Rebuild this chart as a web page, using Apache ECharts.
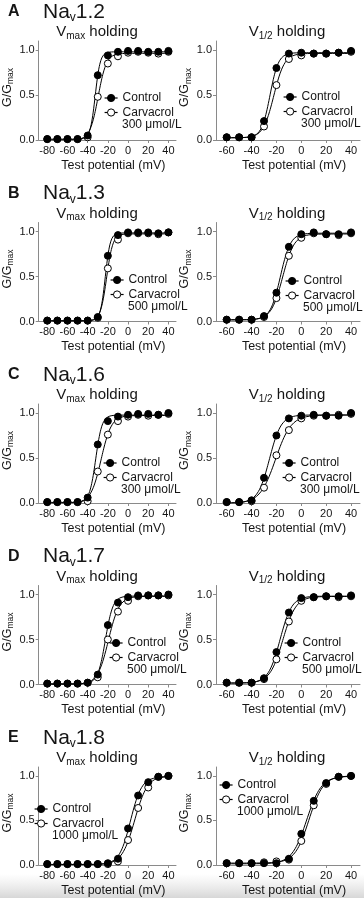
<!DOCTYPE html>
<html><head><meta charset="utf-8">
<script src="https://cdn.jsdelivr.net/npm/echarts@6/dist/echarts.min.js"></script>
<style>html,body{margin:0;padding:0;background:#fff}#c{width:364px;height:898px}</style>
</head><body><div id="c"></div>
<script>
// ---------------- data ----------------
const xLeft = [-80, -70, -60, -50, -40, -30, -20, -10, 0, 10, 20, 30, 40];   // Vmax holding panels
const xRight = [-60, -50, -40, -30, -20, -10, 0, 10, 20, 30, 40];             // V1/2 holding panels
const xTicksLeft = [-80, -60, -40, -20, 0, 20, 40];
const xTicksRight = [-60, -40, -20, 0, 20, 40];
const yTicks = [0, 0.5, 1.0];

const channels = ['1.2', '1.3', '1.6', '1.7', '1.8'];
const panelLetters = ['A', 'B', 'C', 'D', 'E'];
const concentrations = ['300 μmol/L', '500 μmol/L', '300 μmol/L', '500 μmol/L', '1000 μmol/L'];
const seriesNames = ['Control', 'Carvacrol'];

const nav12VmaxControl   = [0.01, 0.01, 0.01, 0.01, 0.05, 0.72, 0.94, 0.98, 0.99, 0.99, 0.98, 0.98, 0.99];
const nav12VmaxCarvacrol = [0.01, 0.01, 0.01, 0.01, 0.03, 0.48, 0.85, 0.93, 0.97, 0.98, 0.97, 0.96, 0.98];
const nav12VhalfControl   = [0.03, 0.03, 0.03, 0.21, 0.80, 0.96, 0.97, 0.96, 0.96, 0.97, 0.99];
const nav12VhalfCarvacrol = [0.03, 0.03, 0.03, 0.15, 0.61, 0.90, 0.94, 0.96, 0.96, 0.97, 0.98];

const nav13VmaxControl   = [0.01, 0.01, 0.01, 0.01, 0.01, 0.05, 0.73, 0.96, 0.99, 0.99, 0.99, 0.98, 0.99];
const nav13VmaxCarvacrol = [0.01, 0.01, 0.01, 0.01, 0.01, 0.04, 0.59, 0.91, 0.98, 0.98, 0.98, 0.97, 0.99];
const nav13VhalfControl   = [0.02, 0.02, 0.02, 0.06, 0.32, 0.83, 0.97, 0.99, 0.97, 0.97, 0.99];
const nav13VhalfCarvacrol = [0.02, 0.02, 0.02, 0.05, 0.26, 0.73, 0.93, 0.98, 0.97, 0.96, 0.98];

const nav16VmaxControl   = [0.01, 0.01, 0.01, 0.01, 0.06, 0.65, 0.91, 0.96, 0.98, 0.99, 0.99, 0.98, 1.00];
const nav16VmaxCarvacrol = [0.01, 0.01, 0.01, 0.01, 0.02, 0.35, 0.76, 0.91, 0.96, 0.98, 0.97, 0.98, 0.99];
const nav16VhalfControl   = [0.01, 0.01, 0.03, 0.28, 0.75, 0.94, 0.97, 0.98, 0.97, 0.97, 1.00];
const nav16VhalfCarvacrol = [0.01, 0.01, 0.02, 0.17, 0.53, 0.81, 0.94, 0.97, 0.97, 0.98, 0.99];

const nav17VmaxControl   = [0.01, 0.01, 0.01, 0.01, 0.02, 0.11, 0.66, 0.91, 0.97, 0.99, 0.99, 0.99, 1.00];
const nav17VmaxCarvacrol = [0.01, 0.01, 0.01, 0.01, 0.02, 0.08, 0.50, 0.81, 0.93, 0.98, 0.99, 0.99, 0.99];
const nav17VhalfControl   = [0.02, 0.02, 0.02, 0.07, 0.36, 0.80, 0.96, 0.97, 0.98, 0.98, 0.99];
const nav17VhalfCarvacrol = [0.02, 0.02, 0.02, 0.06, 0.28, 0.70, 0.93, 0.97, 0.98, 0.97, 0.98];

const nav18VmaxControl   = [0.01, 0.01, 0.01, 0.01, 0.01, 0.01, 0.02, 0.07, 0.41, 0.78, 0.93, 0.99, 1.00];
const nav18VmaxCarvacrol = [0.01, 0.01, 0.01, 0.01, 0.01, 0.01, 0.01, 0.04, 0.28, 0.64, 0.87, 0.99, 1.00];
const nav18VhalfControl   = [0.02, 0.02, 0.02, 0.02, 0.02, 0.07, 0.35, 0.72, 0.92, 0.99, 1.00];
const nav18VhalfCarvacrol = [0.02, 0.02, 0.02, 0.03, 0.04, 0.06, 0.27, 0.67, 0.91, 0.99, 1.00];

// ---------------- layout / style ----------------
const FONT = "'Liberation Sans', Arial, Helvetica, sans-serif";
const TXT = '#151515';
const AXIS = '#8a8a8a';
const ROW_PITCH = 181.5;
const GRID_TOP0 = 41;
const GRID_H = 99;
const GRID_W = 144;
const COL_LEFT = [32, 216];
const X_RANGE = [[-88.5, 47.5], [-68.6, 47.2]];
// legend anchors: [text x, centre y of "Control" line] per panel, row-relative y
const LEGEND_POS = [
  [[122, 97], [301, 96]],
  [[128, 97.5], [303, 98.5]],
  [[121, 99], [300, 99]],
  [[127, 97.5], [302, 97.5]],
  [[52, 82], [237, 58]]
];

const rows = [
  [nav12VmaxControl, nav12VmaxCarvacrol, nav12VhalfControl, nav12VhalfCarvacrol],
  [nav13VmaxControl, nav13VmaxCarvacrol, nav13VhalfControl, nav13VhalfCarvacrol],
  [nav16VmaxControl, nav16VmaxCarvacrol, nav16VhalfControl, nav16VhalfCarvacrol],
  [nav17VmaxControl, nav17VmaxCarvacrol, nav17VhalfControl, nav17VhalfCarvacrol],
  [nav18VmaxControl, nav18VmaxCarvacrol, nav18VhalfControl, nav18VhalfCarvacrol]
];

// Boltzmann fit (least squares, Nelder–Mead) of the data points, as drawn in the original figure
function boltzmann(p, v) { return p[0] + (p[1] - p[0]) / (1 + Math.exp((p[2] - v) / p[3])); }
function fitBoltzmann(xs, ys) {
  const sse = p => {
    if (p[3] < 0.8 || p[3] > 30) return 1e9;
    let s = 0;
    for (let i = 0; i < xs.length; i++) { const d = boltzmann(p, xs[i]) - ys[i]; s += d * d; }
    return s;
  };
  const lo = Math.min(...ys), hi = Math.max(...ys), mid = (lo + hi) / 2;
  let vh = xs[Math.floor(xs.length / 2)];
  for (let i = 1; i < xs.length; i++) {
    if (ys[i - 1] < mid && ys[i] >= mid) { vh = xs[i - 1] + (mid - ys[i - 1]) / (ys[i] - ys[i - 1]) * (xs[i] - xs[i - 1]); break; }
  }
  const n = 4, p0 = [lo, hi, vh, 5], steps = [0.02, 0.02, 3, 2];
  let sim = [p0];
  for (let i = 0; i < n; i++) { const p = p0.slice(); p[i] += steps[i]; sim.push(p); }
  let vals = sim.map(sse);
  for (let it = 0; it < 3000; it++) {
    const idx = sim.map((_, i) => i).sort((a, b) => vals[a] - vals[b]);
    sim = idx.map(i => sim[i]); vals = idx.map(i => vals[i]);
    const c = new Array(n).fill(0);
    for (let i = 0; i < n; i++) for (let j = 0; j < n; j++) c[j] += sim[i][j] / n;
    const w = sim[n];
    const xr = c.map((cj, j) => cj + (cj - w[j])), fr = sse(xr);
    if (fr < vals[0]) {
      const xe = c.map((cj, j) => cj + 2 * (cj - w[j])), fe = sse(xe);
      if (fe < fr) { sim[n] = xe; vals[n] = fe; } else { sim[n] = xr; vals[n] = fr; }
    } else if (fr < vals[n - 1]) { sim[n] = xr; vals[n] = fr; }
    else {
      const xc = c.map((cj, j) => cj + 0.5 * (w[j] - cj)), fc = sse(xc);
      if (fc < vals[n]) { sim[n] = xc; vals[n] = fc; }
      else {
        for (let i = 1; i <= n; i++) { sim[i] = sim[i].map((v, j) => sim[0][j] + 0.5 * (v - sim[0][j])); vals[i] = sse(sim[i]); }
      }
    }
  }
  let b = 0; for (let i = 1; i <= n; i++) if (vals[i] < vals[b]) b = i;
  return sim[b];
}
function fitCurve(xs, ys) {
  const p = fitBoltzmann(xs, ys);
  const out = [];
  for (let v = xs[0]; v <= xs[xs.length - 1] + 1e-9; v += 0.5) out.push([v, boltzmann(p, v)]);
  return out;
}
const zip = (xs, ys) => xs.map((x, i) => [x, ys[i]]);

const grids = [], xAxes = [], yAxes = [], series = [], legends = [], graphics = [];

rows.forEach((vals, r) => {
  const dy = ROW_PITCH * r;
  for (let c = 0; c < 2; c++) {
    const k = r * 2 + c;
    const xs = c === 0 ? xLeft : xRight;
    const ticks = c === 0 ? xTicksLeft : xTicksRight;
    const ctrl = vals[c * 2], carv = vals[c * 2 + 1];
    grids.push({ left: COL_LEFT[c], top: GRID_TOP0 + dy, width: GRID_W, height: GRID_H });
    xAxes.push({
      type: 'value', gridIndex: k, min: X_RANGE[c][0], max: X_RANGE[c][1],
      axisLine: { show: true, onZero: false, lineStyle: { color: AXIS, width: 1 } },
      axisTick: { show: true, length: 3, customValues: ticks, lineStyle: { color: AXIS } },
      axisLabel: { customValues: ticks, fontSize: 11, color: TXT, fontFamily: FONT, margin: 5 },
      splitLine: { show: false },
      name: 'Test potential (mV)', nameLocation: 'middle', nameGap: 19,
      nameTextStyle: { fontSize: 12.5, color: TXT, fontFamily: FONT, padding: [0, 0, 0, 12] }
    });
    yAxes.push({
      type: 'value', gridIndex: k, min: 0, max: 1.1,
      axisLine: { show: true, onZero: false, lineStyle: { color: AXIS, width: 1 } },
      axisTick: { show: true, length: 3, customValues: yTicks, lineStyle: { color: AXIS } },
      axisLabel: { customValues: yTicks, fontSize: 11, color: TXT, fontFamily: FONT, margin: 4,
                   formatter: v => v.toFixed(1) },
      splitLine: { show: false },
      name: 'G/G{s|max}', nameLocation: 'middle', nameRotate: 90, nameGap: 17,
      nameTextStyle: { fontSize: 12.5, color: TXT, fontFamily: FONT, padding: [0, 0, 0, 6],
                       rich: { s: { fontSize: 8.5, color: TXT, fontFamily: FONT, padding: [7, 0, 0, 0] } } }
    });
    const lineCommon = { type: 'line', xAxisIndex: k, yAxisIndex: k, showSymbol: false, silent: true,
                         lineStyle: { color: '#000', width: 1 }, z: 2, animation: false };
    series.push(Object.assign({ name: 'Carvacrol fit', data: fitCurve(xs, carv) }, lineCommon));
    series.push(Object.assign({ name: 'Control fit', data: fitCurve(xs, ctrl) }, lineCommon));
    series.push({
      name: seriesNames[1], type: 'line', xAxisIndex: k, yAxisIndex: k, data: zip(xs, carv),
      symbol: 'circle', symbolSize: 7, showAllSymbol: true, lineStyle: { width: 0, opacity: 0 },
      itemStyle: { color: '#fff', borderColor: '#000', borderWidth: 1 }, z: 3, animation: false
    });
    series.push({
      name: seriesNames[0], type: 'line', xAxisIndex: k, yAxisIndex: k, data: zip(xs, ctrl),
      symbol: 'circle', symbolSize: 7, showAllSymbol: true, lineStyle: { width: 0, opacity: 0 },
      itemStyle: { color: '#000', borderColor: '#000', borderWidth: 1 }, z: 4, animation: false
    });
    const lp = LEGEND_POS[r][c];
    legends.push({
      orient: 'vertical', left: lp[0] - 18, top: lp[1] + dy - 5, itemWidth: 13, itemHeight: 9, itemGap: 2.5,
      padding: 0, data: seriesNames, selectedMode: false,
      textStyle: { fontSize: 12, color: TXT, fontFamily: FONT },
      lineStyle: { color: '#000', width: 1.2, opacity: 1 },
      itemStyle: { borderWidth: 1, borderColor: '#000' }
    });
    graphics.push({
      type: 'text', x: lp[0], y: lp[1] + dy + 28, silent: true,
      style: { text: concentrations[r], fontSize: 12, fontFamily: FONT, fill: TXT,
               align: 'left', textAlign: 'left', verticalAlign: 'middle', textVerticalAlign: 'middle' }
    });
    graphics.push({
      type: 'text', x: c === 0 ? 97 : 287, y: 32 + dy, silent: true,
      style: { text: c === 0 ? 'V{s|max} holding' : 'V{s|1/2} holding', fontSize: 15, fontFamily: FONT, fill: TXT,
               align: 'center', textAlign: 'center', verticalAlign: 'middle', textVerticalAlign: 'middle',
               rich: { s: { fontSize: 10, fontFamily: FONT, fill: TXT, padding: [8, 0, 0, 0] } } }
    });
  }
  graphics.push({
    type: 'text', x: 8, y: 12 + dy, silent: true,
    style: { text: panelLetters[r], fontSize: 16, fontWeight: 'bold', fontFamily: FONT, fill: TXT,
             align: 'left', textAlign: 'left', verticalAlign: 'middle', textVerticalAlign: 'middle' }
  });
  graphics.push({
    type: 'text', x: 43, y: 12 + dy, silent: true,
    style: { text: 'Na{s|v}' + channels[r], fontSize: 21, fontFamily: FONT, fill: TXT,
             align: 'left', textAlign: 'left', verticalAlign: 'middle', textVerticalAlign: 'middle',
             rich: { s: { fontSize: 12, fontFamily: FONT, fill: TXT, padding: [12, 0, 0, 0] } } }
  });
});

graphics.push({
  type: 'rect', left: 0, top: 874, z: -10, silent: true, shape: { width: 364, height: 24 },
  style: { fill: new echarts.graphic.LinearGradient(0, 0, 0, 1, [
    { offset: 0, color: 'rgba(225,225,225,0)' }, { offset: 1, color: 'rgba(215,215,215,1)' }]) }
});

const chart = echarts.init(document.getElementById('c'), null, { renderer: 'canvas' });
chart.setOption({
  animation: false,
  backgroundColor: '#fff',
  grid: grids, xAxis: xAxes, yAxis: yAxes, series: series, legend: legends, graphic: graphics
});
</script></body></html>
